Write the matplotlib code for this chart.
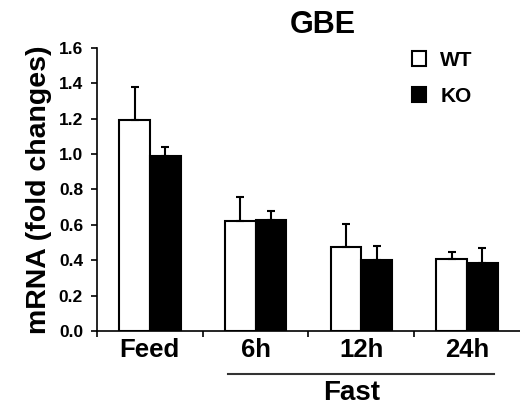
import numpy as np
import matplotlib
matplotlib.use("Agg")
from matplotlib import pyplot as plt
from matplotlib.patches import Patch
import matplotlib.transforms as mtransforms

plt.rcParams['font.family'] = ['Liberation Sans', 'DejaVu Sans']
plt.rcParams['font.weight'] = 'bold'

groups = ["Feed", "6h", "12h", "24h"]
wt = [1.19, 0.623, 0.476, 0.407]
wt_err = [0.19, 0.134, 0.127, 0.038]
ko = [0.99, 0.629, 0.401, 0.382]
ko_err = [0.05, 0.049, 0.077, 0.088]

fig = plt.figure(figsize=(5.2, 4.11), dpi=100)
ax = fig.add_axes([0.1865, 0.1946, 0.8135, 0.6894])

x = np.arange(len(groups))
w = 0.29
ax.bar(x - w/2, wt, w, color="white", edgecolor="black", linewidth=1.5,
       yerr=[np.zeros(4), wt_err], error_kw=dict(ecolor="black", elinewidth=1.5, capsize=2.6, capthick=1.5),
       label="WT")
ax.bar(x + w/2, ko, w, color="black", edgecolor="black", linewidth=1.5,
       yerr=[np.zeros(4), ko_err], error_kw=dict(ecolor="black", elinewidth=1.5, capsize=2.6, capthick=1.5),
       label="KO")

ax.set_xlim(-0.5, 3.5)
ax.set_ylim(0, 1.6)
ax.set_yticks(np.arange(0, 1.61, 0.2))
ax.set_yticklabels([f"{v:.1f}" for v in np.arange(0, 1.61, 0.2)], fontsize=12.5, fontweight="bold")
ax.set_xticks(x)
ax.set_xticklabels(groups, fontsize=18.5, fontweight="bold")
ax.tick_params(axis="x", which="major", length=0, pad=5)
ax.set_xticks([-0.5, 0.5, 1.5, 2.5], minor=True)
ax.tick_params(axis="x", which="minor", length=4, width=1.2)
ax.tick_params(axis="y", length=4, width=1.2, pad=6)
for s in ["top", "right"]:
    ax.spines[s].set_visible(False)
ax.spines["left"].set_linewidth(1.2)
ax.spines["bottom"].set_linewidth(1.2)

ax.set_ylabel("mRNA (fold changes)", fontsize=20.5, fontweight="bold", labelpad=5)

fig.text(0.62, 0.94, "GBE", ha="center", va="center", fontsize=22, fontweight="bold")

# "Fast" bracket under the 6h-24h groups
trans = mtransforms.blended_transform_factory(ax.transData, ax.transAxes)
ax.plot([0.737, 3.258], [-0.152, -0.152], color="#333333", linewidth=1.5, transform=trans, clip_on=False)
ax.text(1.91, -0.218, "Fast", transform=trans, ha="center", va="center", fontsize=20, fontweight="bold")

handles = [Patch(facecolor="white", edgecolor="black", linewidth=1.5, label="WT"),
           Patch(facecolor="black", edgecolor="black", linewidth=1.5, label="KO")]
ax.legend(handles=handles, loc="upper left", bbox_to_anchor=(0.745, 0.99), frameon=False,
          prop=dict(size=15, weight="bold"), handlelength=0.65, handleheight=0.75,
          handletextpad=0.7, labelspacing=0.82, borderpad=0, borderaxespad=0)

fig.savefig("out.png", dpi=100)
